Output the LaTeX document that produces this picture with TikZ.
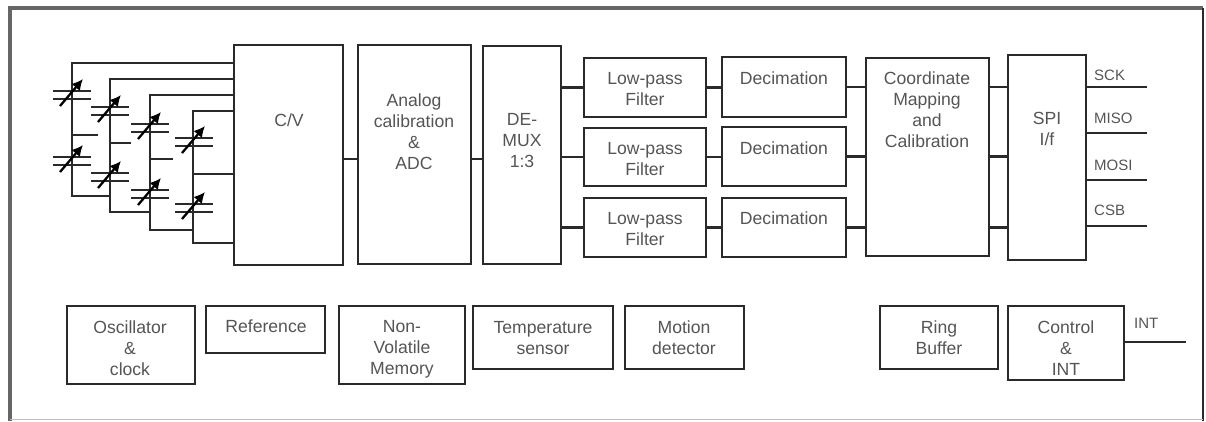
\documentclass[tikz,border=0pt]{standalone}
\usepackage{fontspec}
\setmainfont{Liberation Sans}
\usetikzlibrary{arrows.meta,calc}
\definecolor{ink}{HTML}{2A2A2A}
\definecolor{txtc}{HTML}{555555}
\definecolor{framec}{HTML}{666666}
\tikzset{
  blockbox/.style={draw=ink,line width=2.2pt,inner sep=0pt,outer sep=0pt,fill=white},
  blocktext/.style={text=txtc,align=center,inner sep=0pt,font=\fontsize{17.6}{21}\selectfont},
  pinlabel/.style={text=txtc,inner sep=0pt,anchor=west,font=\fontsize{15}{16}\selectfont},
  wire/.style={draw=ink,line width=2.1pt,line cap=rect},
  plate/.style={draw=ink,line width=2.3pt},
  tune/.style={draw=black,line width=2.3pt,-{Latex[length=11pt,width=11pt]}}
}
% name, x1, y1, x2, y2
\newcommand{\blk}[5]{%
  \pgfmathsetmacro{\bw}{#4-#2}\pgfmathsetmacro{\bh}{#5-#3}%
  \pgfmathsetmacro{\bx}{(#4+#2)/2}\pgfmathsetmacro{\by}{(#5+#3)/2}%
  \node[blockbox,minimum width=\bw pt,minimum height=\bh pt] (#1) at (\bx,\by) {};}
\newcommand{\capac}[2]{%
  \draw[plate] (#1-19,#2) -- (#1+19,#2);
  \draw[plate] (#1-19,#2+8) -- (#1+19,#2+8);
  \draw[tune] (#1-12,#2+15) -- (#1+11,#2-12);}
\begin{document}
\begin{tikzpicture}[x=1pt,y=-1pt]
\useasboundingbox (0,0) rectangle (1206,421);
\fill[white] (0,0) rectangle (1206,421);
% outer frame
\draw[draw=framec,line width=3.2pt] (10,421) -- (10,8) -- (1203,8);
\draw[draw=ink,line width=2.2pt] (1203,8) -- (1203,421);
\draw[draw=gray!50,line width=0.8pt] (10,419) -- (1203,419);
% connector coordinates
\coordinate (c1t) at (72,63); \coordinate (c1s) at (72,135); \coordinate (c1b) at (72,196);
\coordinate (c2t) at (111,79); \coordinate (c2s) at (110,143); \coordinate (c2b) at (110,212);
\coordinate (c3t) at (150,95); \coordinate (c3s) at (150,159); \coordinate (c3b) at (150,230);
\coordinate (c4t) at (193,111); \coordinate (c4s) at (193,174); \coordinate (c4b) at (193,243);
\coordinate (s1) at (97,135); \coordinate (s2) at (130,143); \coordinate (s3) at (172,159);
% blocks
\blk{cv}{234}{45}{343}{265}
\blk{adc}{358}{45}{471}{264}
\blk{dmx}{483}{46}{561}{264}
\blk{lp1}{584}{58}{706}{117}
\blk{lp2}{584}{128}{706}{186}
\blk{lp3}{584}{198}{706}{257}
\blk{de1}{722}{57}{846}{117}
\blk{de2}{722}{127}{846}{186}
\blk{de3}{722}{198}{846}{257}
\blk{map}{866}{58}{989}{256}
\blk{spi}{1008}{55}{1086}{260}
\blk{osc}{67}{306}{195}{384}
\blk{ref}{206}{306}{325}{353}
\blk{nvm}{339}{306}{465}{384}
\blk{tmp}{473}{306}{613}{369}
\blk{mot}{625}{306}{744}{369}
\blk{rng}{880}{306}{998}{369}
\blk{ctl}{1008}{306}{1124}{380}
% capacitor wiring
\draw[wire] (c1t) -- (c1b) -- (c1b -| c2b);
\draw[wire] (c2t -| c2b) -- (c2b) -- (c2b -| c3b);
\draw[wire] (c3t) -- (c3b) -- (c3b -| c4b);
\draw[wire] (c4t) -- (c4b);
\draw[wire] (c1t) -- (c1t -| cv.west);
\draw[wire] (c2t) -- (c2t -| cv.west);
\draw[wire] (c3t) -- (c3t -| cv.west);
\draw[wire] (c4t) -- (c4t -| cv.west);
\draw[wire] (c4s) -- (c4s -| cv.west);
\draw[wire] (c4b) -- (c4b -| cv.west);
\draw[wire] (c1s) -- (s1);
\draw[wire] (c2s) -- (s2);
\draw[wire] (c3s) -- (s3);
\capac{72}{91}\capac{72}{157}
\capac{110}{107}\capac{110}{173}
\capac{150}{124}\capac{150}{190}
\capac{194}{138}\capac{194}{204}
% signal path
\draw[wire] (cv.east |- 0,159) -- (adc.west |- 0,159);
\draw[wire] (adc.east |- 0,159) -- (dmx.west |- 0,159);
\foreach \n/\d in {lp1/de1,lp2/de2,lp3/de3}{
  \draw[wire] (dmx.east |- \n.west) -- (\n.west);
  \draw[wire] (\n.east) -- (\n.east -| \d.west);
  \draw[wire] (\d.east) -- (\d.east -| map.west);
  \draw[wire] (\d.east -| map.east) -- (\d.east -| spi.west);
}
% outputs
\coordinate (sck) at (1146,87); \coordinate (miso) at (1146,133);
\coordinate (mosi) at (1146,180); \coordinate (csb) at (1146,226);
\coordinate (intp) at (1185,342);
\foreach \p in {sck,miso,mosi,csb}{\draw[wire] (\p -| spi.east) -- (\p);}
\draw[wire] (intp -| ctl.east) -- (intp);
% texts
\node[blocktext] (tcv) at (289,120) {C/V};
\node[blocktext] (tadc) at (414,132) {Analog\\calibration\\\&\\ADC};
\node[blocktext] (tdmx) at (522,141) {DE-\\MUX\\1:3};
\node[blocktext] (tl1) at (645,89) {Low-pass\\Filter};
\node[blocktext] (tl2) at (645,159) {Low-pass\\Filter};
\node[blocktext] (tl3) at (645,229) {Low-pass\\Filter};
\node[blocktext] (td1) at (784,78) {Decimation};
\node[blocktext] (td2) at (784,148) {Decimation};
\node[blocktext] (td3) at (784,218) {Decimation};
\node[blocktext] (tmap) at (927,110) {Coordinate\\Mapping\\and\\Calibration};
\node[blocktext] (tspi) at (1047,129) {SPI\\I/f};
\node[blocktext] (tosc) at (130,348) {Oscillator\\\&\\clock};
\node[blocktext] (tref) at (266,326) {Reference};
\node[blocktext] (tnvm) at (402,349) {Non-\\Volatile\\Memory};
\node[blocktext] (ttmp) at (543,338) {Temperature\\sensor};
\node[blocktext] (tmot) at (684,338) {Motion\\detector};
\node[blocktext] (trng) at (939,338) {Ring\\Buffer};
\node[blocktext] (tctl) at (1066,348) {Control\\\&\\INT};
\node[pinlabel] (lsck) at (1094,75) {SCK};
\node[pinlabel] (lmiso) at (1094,118) {MISO};
\node[pinlabel] (lmosi) at (1094,165) {MOSI};
\node[pinlabel] (lcsb) at (1094,210) {CSB};
\node[pinlabel] (lint) at (1134,323) {INT};
\end{tikzpicture}
\end{document}
